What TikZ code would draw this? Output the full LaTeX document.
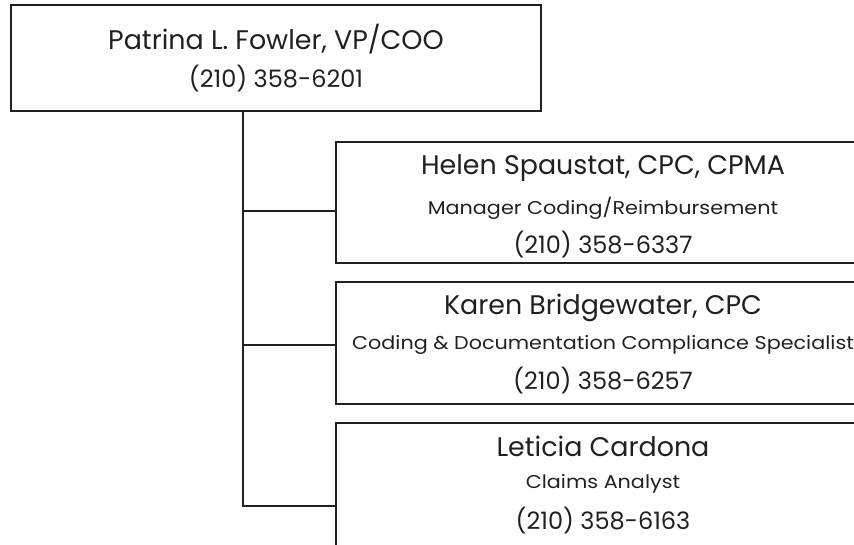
\documentclass[tikz,border=0pt]{standalone}
\usepackage{fontspec}
\setmainfont{Poppins}
\newfontfamily\rolefont[FakeStretch=1.12]{Poppins}
\definecolor{ink}{HTML}{231F20}
\begin{document}
\begin{tikzpicture}[x=1pt,y=-1pt,
  box/.style={draw=ink, line width=2.4pt, inner sep=0pt, minimum width=534pt},
  nametext/.style={text=ink, inner sep=0pt, anchor=base, font=\fontsize{26.9}{30}\selectfont},
  phonetext/.style={text=ink, inner sep=0pt, anchor=base, font=\fontsize{24}{28}\selectfont},
  roletext/.style={text=ink, inner sep=0pt, anchor=base, font=\rolefont\fontsize{18.5}{22}\selectfont},
  link/.style={draw=ink, line width=2pt}]
\useasboundingbox (0,0) rectangle (854,544);
\clip (0,0) rectangle (854,544);
% boxes
\node[box, minimum width=530pt, minimum height=106pt] (top) at (276,58) {};
\node[box, minimum height=121pt] (b1) at (603,202.5) {};
\node[box, minimum height=122pt] (b2) at (603,343) {};
\node[box, minimum height=130pt] (b3) at (603,488) {};
% texts
\node[nametext] (topname) at (276,49) {Patrina L. Fowler, VP/COO};
\node[phonetext] (topphone) at (276,87) {(210) 358-6201};
\node[nametext] (n1) at (603,174) {Helen Spaustat, CPC, CPMA};
\node[roletext] (r1) at (603,214) {Manager Coding/Reimbursement};
\node[phonetext] (p1) at (603,253) {(210) 358-6337};
\node[nametext] (n2) at (603,314) {Karen Bridgewater, CPC};
\node[roletext] (r2) at (603,349) {Coding \& Documentation Compliance Specialist};
\node[phonetext] (p2) at (603,389) {(210) 358-6257};
\node[nametext] (n3) at (603,456) {Leticia Cardona};
\node[roletext] (r3) at (603,488) {Claims Analyst};
\node[phonetext] (p3) at (603,529) {(210) 358-6163};
% connectors
\coordinate (trunk) at (243,0);
\coordinate (j1) at (0,211);
\coordinate (j2) at (0,345);
\coordinate (j3) at (0,506);
\draw[link] (top.south -| trunk) -- (trunk |- j3) -- (b3.west |- j3);
\draw[link] (trunk |- j1) -- (b1.west |- j1);
\draw[link] (trunk |- j2) -- (b2.west |- j2);
\end{tikzpicture}
\end{document}
